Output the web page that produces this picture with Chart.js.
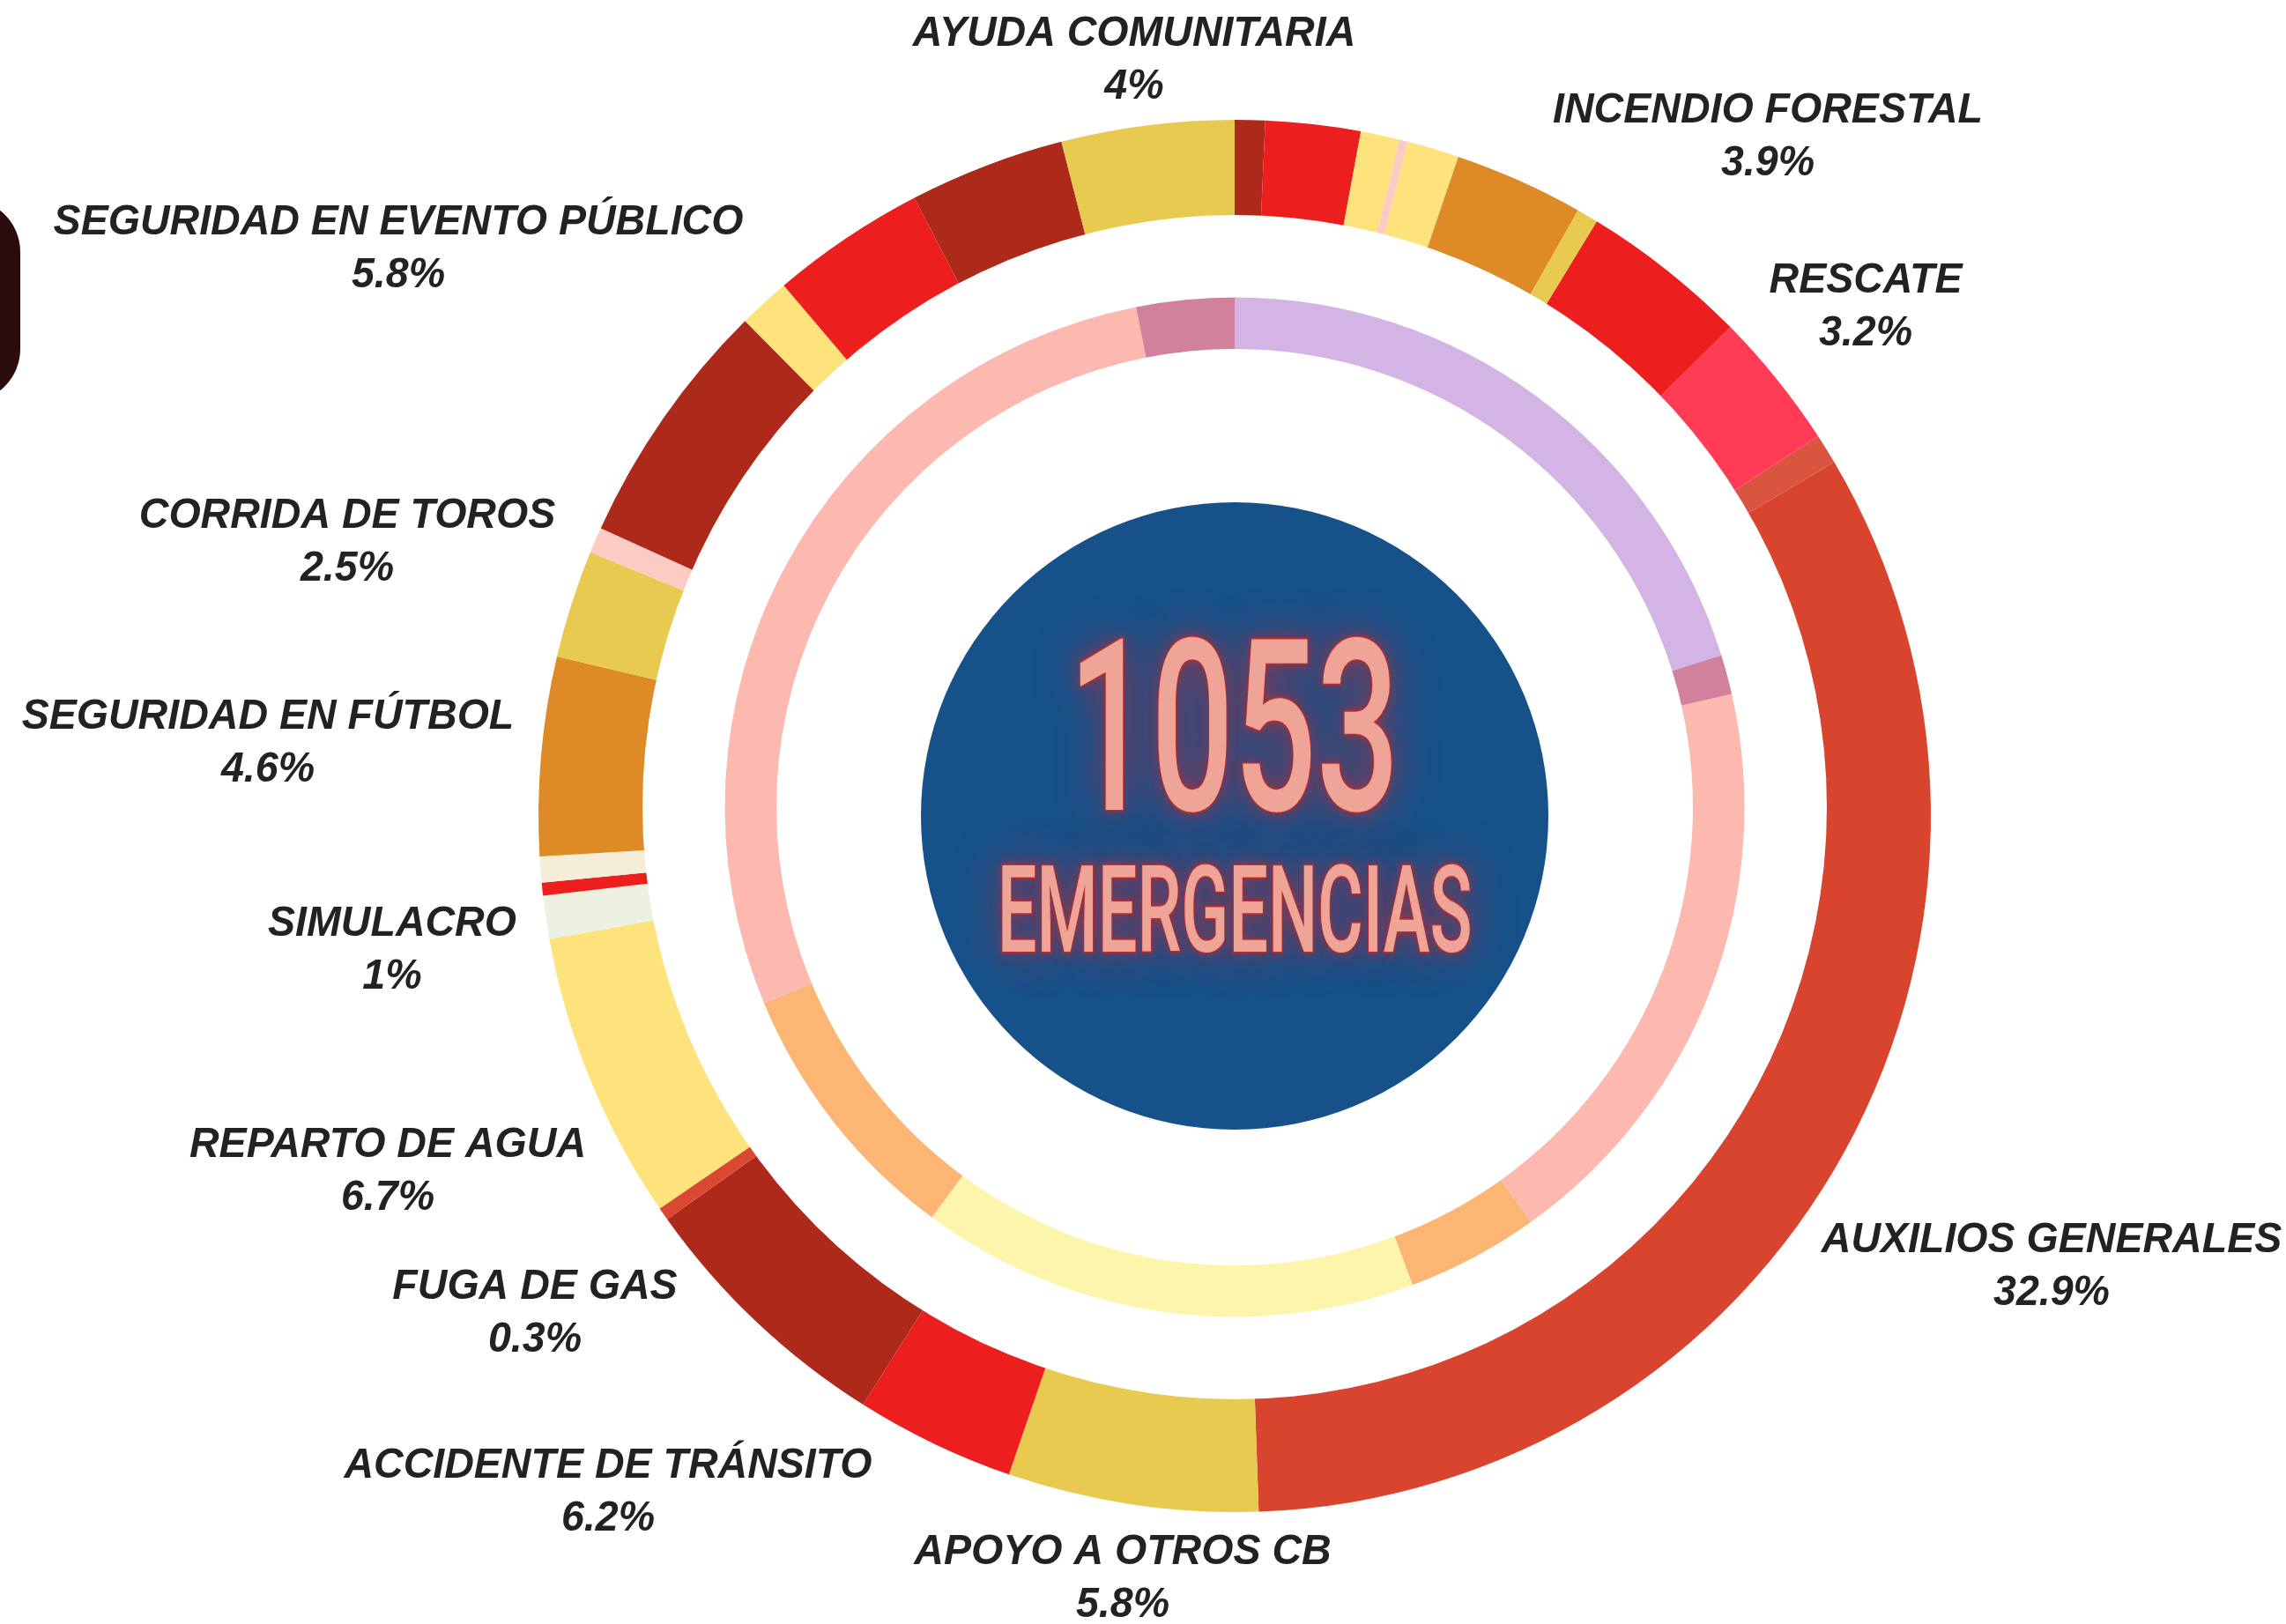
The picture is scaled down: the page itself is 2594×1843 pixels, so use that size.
<!DOCTYPE html>
<html><head><meta charset="utf-8">
<script src="https://cdn.jsdelivr.net/npm/chart.js@4"></script>
<style>html,body{margin:0;padding:0;background:#fff;overflow:hidden}canvas{display:block}</style>
</head><body>
<canvas id="c" width="2594" height="1843"></canvas>
<script>
// ---------- DATA ----------
const outerCategories = [
  'Otro 1','Otro 2','Otro 3','Otro 4','Otro 5','Otro 6','Otro 7',
  'INCENDIO FORESTAL','RESCATE','Otro 8','AUXILIOS GENERALES','APOYO A OTROS CB',
  'Otro 9','ACCIDENTE DE TRÁNSITO','FUGA DE GAS','REPARTO DE AGUA','SIMULACRO',
  'Otro 10','Otro 11','SEGURIDAD EN FÚTBOL','CORRIDA DE TOROS','Otro 12',
  'SEGURIDAD EN EVENTO PÚBLICO','Otro 13','Otro 14','Otro 15','AYUDA COMUNITARIA'
];
const outerValues = [
  0.7, 2.2, 0.9, 0.2, 1.2, 3.0, 0.5,
  3.9, 3.2, 0.7, 32.9, 5.8,
  3.7, 6.2, 0.3, 6.7, 1,
  0.3, 0.6, 4.6, 2.5, 0.6,
  5.8, 1.2, 3.6, 3.6, 4
];
const outerColors = [
  '#AD2A1B','#ED1E1E','#FEE27B','#FBCBC4','#FEE27B','#DE8A27','#E9CA50',
  '#ED1E1E','#FF3B56','#D9553F','#D9442F','#E9CA50',
  '#ED1E1E','#AD2A1B','#DA4733','#FEE27B','#ECF1E1',
  '#ED1E1E','#F5EDD8','#DE8A27','#E9CA50','#FBCBC4',
  '#AD2A1B','#FEE27B','#ED1E1E','#AD2A1B','#E9CA50'
];
const innerCategories = ['Grupo A','Grupo B','Grupo C','Grupo D','Grupo E','Grupo F','Grupo G','Grupo H'];
const innerValues = [20.2, 1.25, 18.7, 4.2, 15.8, 8.6, 28.2, 3.1];
const innerColors = ['#D3B4E5','#D1809E','#FDB8AF','#FDB574','#FEF5AD','#FDB574','#FDB8AF','#D1809E'];
const totalEmergencies = 1053;
const centerSubtitle = 'EMERGENCIAS';

// ---------- LAYOUT (positions / sizes / styles only) ----------
// [category name, centerX, nameCenterY]
const labelLayout = [
  ['AYUDA COMUNITARIA', 1287, 34],
  ['INCENDIO FORESTAL', 2006, 121],
  ['RESCATE', 2117, 314],
  ['SEGURIDAD EN EVENTO PÚBLICO', 452, 248],
  ['CORRIDA DE TOROS', 394, 581],
  ['SEGURIDAD EN FÚTBOL', 304, 809],
  ['SIMULACRO', 445, 1044],
  ['REPARTO DE AGUA', 440, 1295],
  ['FUGA DE GAS', 607, 1456],
  ['ACCIDENTE DE TRÁNSITO', 690, 1659],
  ['APOYO A OTROS CB', 1274, 1757],
  ['AUXILIOS GENERALES', 2328, 1403]
];
const LABEL_FONT = 'italic bold 49px "Liberation Sans", Arial, sans-serif';
const LABEL_SCALE_X = 0.95;
const LINE_GAP = 60;
const CAP_HALF = 18;
const INNER_SHIFT_Y = -10;   // inner ring / carve centre sits slightly above outer rim centre
const CARVE_RADIUS = 672;
const DISC_RADIUS = 356;

const decorPlugin = {
  id: 'decor',
  beforeDraw(chart) {
    const ctx = chart.ctx;
    ctx.save();
    ctx.fillStyle = '#2B0B0C';
    ctx.beginPath();
    ctx.roundRect(-120, 226, 143, 230, 60);
    ctx.fill();
    ctx.restore();
  },
  beforeDatasetDraw(chart, args) {
    if (args.index === 2) {
      const ctx = chart.ctx;
      const arc = chart.getDatasetMeta(0).data[0];
      ctx.save();
      ctx.fillStyle = '#FFFFFF';
      ctx.beginPath();
      ctx.arc(arc.x, arc.y + INNER_SHIFT_Y, CARVE_RADIUS, 0, Math.PI * 2);
      ctx.fill();
      ctx.restore();
      ctx.save();
      ctx.translate(0, INNER_SHIFT_Y);
    }
  },
  afterDatasetDraw(chart, args) {
    if (args.index === 2) chart.ctx.restore();
  },
  afterDatasetsDraw(chart) {
    const ctx = chart.ctx;
    const arc = chart.getDatasetMeta(0).data[0];
    const cx = arc.x, cy = arc.y;
    ctx.save();
    ctx.fillStyle = '#16518A';
    ctx.beginPath();
    ctx.arc(cx, cy, DISC_RADIUS, 0, Math.PI * 2);
    ctx.fill();

    const FF = 'Roboto, "Open Sans", sans-serif';
    const drawGlowText = (txt, centerX, top, capH, inkW, weight) => {
      ctx.save();
      ctx.font = weight + ' 100px ' + FF;
      const m = ctx.measureText('H');
      const size = 100 * capH / m.actualBoundingBoxAscent;
      ctx.font = weight + ' ' + size + 'px ' + FF;
      const mm = ctx.measureText(txt);
      const w = mm.actualBoundingBoxLeft + mm.actualBoundingBoxRight;
      const sx = inkW / w;
      ctx.translate(centerX, top + capH);
      ctx.scale(sx, 1);
      ctx.textAlign = 'center';
      ctx.textBaseline = 'alphabetic';
      ctx.shadowColor = 'rgba(220,40,45,0.8)';
      ctx.shadowBlur = 50;
      ctx.fillStyle = 'rgba(190,40,50,0.85)';
      ctx.fillText(txt, 0, 0);
      ctx.shadowBlur = 12;
      ctx.shadowColor = 'rgba(235,40,40,0.9)';
      ctx.lineWidth = 3;
      ctx.strokeStyle = '#C22A2A';
      ctx.strokeText(txt, 0, 0);
      ctx.shadowBlur = 0;
      ctx.shadowColor = 'transparent';
      ctx.fillStyle = '#EEA598';
      ctx.fillText(txt, 0, 0);
      ctx.restore();
    };
    drawGlowText(String(totalEmergencies), cx - 1, 723, 196, 354, 500);
    drawGlowText(centerSubtitle, cx, 981, 99, 531, 500);
    ctx.restore();

    ctx.save();
    ctx.fillStyle = '#222222';
    ctx.font = LABEL_FONT;
    ctx.textAlign = 'center';
    ctx.textBaseline = 'alphabetic';
    labelLayout.forEach(([name, x, y]) => {
      const idx = outerCategories.indexOf(name);
      const pct = outerValues[idx] + '%';
      [[name, y], [pct, y + LINE_GAP]].forEach(([t, yy]) => {
        ctx.save();
        ctx.translate(x, yy + CAP_HALF);
        ctx.scale(LABEL_SCALE_X, 1);
        ctx.fillText(t, 0, 0);
        ctx.restore();
      });
    });
    ctx.restore();
  }
};

new Chart(document.getElementById('c'), {
  type: 'doughnut',
  data: {
    labels: outerCategories,
    datasets: [
      { label: 'Emergencias', data: outerValues, backgroundColor: outerColors, borderWidth: 0, weight: 135, order: 2 },
      { label: 'sep', data: [1], backgroundColor: ['rgba(0,0,0,0)'], borderWidth: 0, weight: 76.5, order: 1 },
      { label: 'Grupos', data: innerValues, backgroundColor: innerColors, borderWidth: 0, weight: 58.5, order: 0 }
    ]
  },
  options: {
    responsive: false,
    devicePixelRatio: 1,
    animation: false,
    cutout: (520 / 790 * 100) + '%',
    layout: { padding: { left: 611, right: 403, top: 136, bottom: 127 } },
    plugins: { legend: { display: false }, tooltip: { enabled: false } },
    events: []
  },
  plugins: [decorPlugin]
});
</script>
</body></html>
